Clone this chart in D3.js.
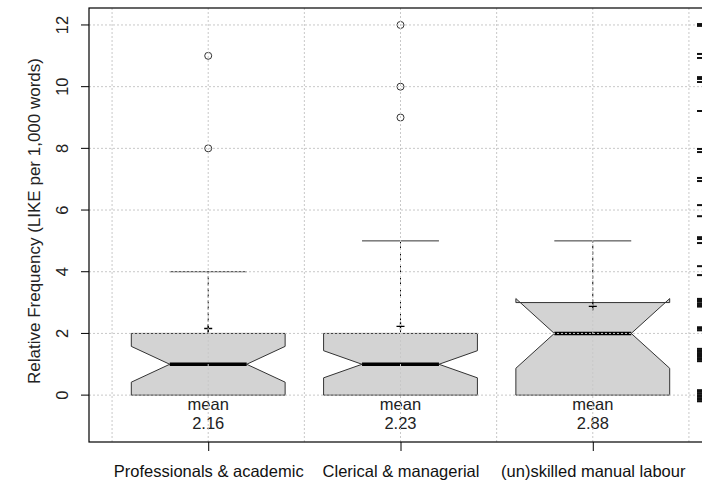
<!DOCTYPE html>
<html>
<head>
<meta charset="utf-8">
<script src="https://cdn.jsdelivr.net/npm/d3@7"></script>
<style>
  html, body { margin: 0; padding: 0; background: #fff; }
  svg { display: block; }
  text { font-family: "Liberation Sans", Arial, sans-serif; }
</style>
</head>
<body>
<script>
// ---- data ----
const categories = ["Professionals & academic", "Clerical & managerial", "(un)skilled manual labour"];
const q1 = [0, 0, 0];
const medians = [1, 1, 2];
const q3 = [2, 2, 3];
const whiskerLow = [0, 0, 0];
const whiskerHigh = [4, 5, 5];
const notchLow = [0.42, 0.56, 0.87];
const notchHigh = [1.58, 1.44, 3.13];
const means = [2.16, 2.23, 2.88];
const outliers = [[8, 11], [9, 10, 12], []];
const yTicks = [0, 2, 4, 6, 8, 10, 12];
const rugValues = [12.03, 11.97, 11.06, 10.93, 10.31, 10.25, 10.15, 9.21, 7.98, 7.88, 7.04, 6.94,
  6.16, 5.8, 5.12, 5.06, 4.93, 4.18, 3.89, 3.12, 3.08, 3.03, 2.97, 2.92, 2.87, 2.2, 2.15, 2.1,
  1.5, 1.45, 1.4, 1.35, 1.3, 1.25, 1.2, 1.15, 1.1, 0.16, 0.11, 0.06, 0.0, -0.05, -0.1, -0.15, -0.2];

// ---- layout ----
const W = 702, H = 484;
const svg = d3.select("body").append("svg").attr("width", W).attr("height", H);
const pL = 89, pR = 712, pT = 8, pB = 442;
const x = d3.scaleLinear().domain([0.38, 3.62]).range([pL, pR]);
const y = d3.scaleLinear().domain([-1.52, 12.55]).range([pB, pT]);
const halfW = 0.4, notchW = 0.2;
const FS = 16.5;

// boxes
const gBox = svg.append("g");
categories.forEach((c, i) => {
  const cx = i + 1;
  const pts = [
    [cx - halfW, q1[i]], [cx - halfW, notchLow[i]], [cx - notchW, medians[i]], [cx - halfW, notchHigh[i]],
    [cx - halfW, q3[i]], [cx + halfW, q3[i]], [cx + halfW, notchHigh[i]], [cx + notchW, medians[i]],
    [cx + halfW, notchLow[i]], [cx + halfW, q1[i]]
  ];
  gBox.append("polygon")
    .attr("points", pts.map(p => [x(p[0]), y(p[1])].join(",")).join(" "))
    .attr("fill", "#d3d3d3").attr("stroke", "#333").attr("stroke-width", 1);
  // median
  gBox.append("line")
    .attr("x1", x(cx - notchW)).attr("x2", x(cx + notchW))
    .attr("y1", y(medians[i])).attr("y2", y(medians[i]))
    .attr("stroke", "#000").attr("stroke-width", 3.5);
  // whisker
  if (whiskerHigh[i] > q3[i]) {
    gBox.append("line")
      .attr("x1", x(cx)).attr("x2", x(cx))
      .attr("y1", y(q3[i])).attr("y2", y(whiskerHigh[i]))
      .attr("stroke", "#000").attr("stroke-dasharray", "3,3");
  }
  gBox.append("line")
    .attr("x1", x(cx - notchW)).attr("x2", x(cx + notchW))
    .attr("y1", y(whiskerHigh[i])).attr("y2", y(whiskerHigh[i]))
    .attr("stroke", "#333").attr("stroke-width", 1);
  // outliers
  outliers[i].forEach(v => {
    gBox.append("circle")
      .attr("cx", x(cx)).attr("cy", y(v)).attr("r", 3.5)
      .attr("fill", "none").attr("stroke", "#333").attr("stroke-width", 1);
  });
  // mean plus
  const mx = x(cx), my = y(means[i]);
  gBox.append("path")
    .attr("d", `M${mx - 4},${my}H${mx + 4}M${mx},${my - 4}V${my + 4}`)
    .attr("stroke", "#000").attr("stroke-width", 1.3);
  // mean labels
  gBox.append("text").attr("x", x(cx)).attr("y", 410).attr("text-anchor", "middle")
    .attr("font-size", FS).attr("fill", "#222").text("mean");
  gBox.append("text").attr("x", x(cx)).attr("y", 429).attr("text-anchor", "middle")
    .attr("font-size", FS).attr("fill", "#222").text(means[i].toFixed(2));
});

// grid on top
const grid = svg.append("g").attr("stroke", "#c8c8c8").attr("stroke-dasharray", "2,2").attr("stroke-width", 1);
yTicks.forEach(t => {
  grid.append("line").attr("x1", pL).attr("x2", pR).attr("y1", y(t)).attr("y2", y(t));
});
[0.5, 1, 1.5, 2, 2.5, 3, 3.5].forEach(t => {
  grid.append("line").attr("x1", x(t)).attr("x2", x(t)).attr("y1", pT).attr("y2", pB);
});

// rug
const rug = svg.append("g").attr("stroke", "#111").attr("stroke-width", 2);
rugValues.forEach(v => {
  rug.append("line").attr("x1", 697).attr("x2", pR).attr("y1", y(v)).attr("y2", y(v));
});

// frame
svg.append("rect").attr("x", pL).attr("y", pT).attr("width", pR - pL).attr("height", pB - pT)
  .attr("fill", "none").attr("stroke", "#000").attr("stroke-width", 1.2);

// y axis
const yAxis = d3.axisLeft(y).tickValues(yTicks).tickSize(8).tickPadding(10);
const ya = svg.append("g").attr("transform", `translate(${pL},0)`).call(yAxis);
ya.select(".domain").remove();
ya.selectAll(".tick").attr("transform", null);
ya.selectAll(".tick line").attr("stroke", "#000")
  .attr("x1", 0).attr("x2", -8).attr("y1", d => y(d)).attr("y2", d => y(d));
ya.selectAll(".tick text")
  .attr("font-size", FS).attr("fill", "#222")
  .attr("font-family", "Liberation Sans, Arial, sans-serif")
  .attr("text-anchor", "middle")
  .attr("x", null).attr("y", null)
  .attr("transform", d => `translate(${-27},${y(d)}) rotate(-90)`)
  .attr("dy", "0.35em");

// x axis
const xAxis = d3.axisBottom(x).tickValues([1, 2, 3]).tickSize(9).tickPadding(14)
  .tickFormat(d => categories[d - 1]);
const xa = svg.append("g").attr("transform", `translate(0,${pB})`).call(xAxis);
xa.select(".domain").remove();
xa.selectAll("line").attr("stroke", "#000");
xa.selectAll("text").attr("font-size", FS).attr("fill", "#111")
  .attr("font-family", "Liberation Sans, Arial, sans-serif");

// y label
svg.append("text")
  .attr("transform", `translate(40,${(pT + pB) / 2 - 4}) rotate(-90)`)
  .attr("text-anchor", "middle").attr("font-size", 17).attr("fill", "#222")
  .text("Relative Frequency (LIKE per 1,000 words)");
</script>
</body>
</html>
